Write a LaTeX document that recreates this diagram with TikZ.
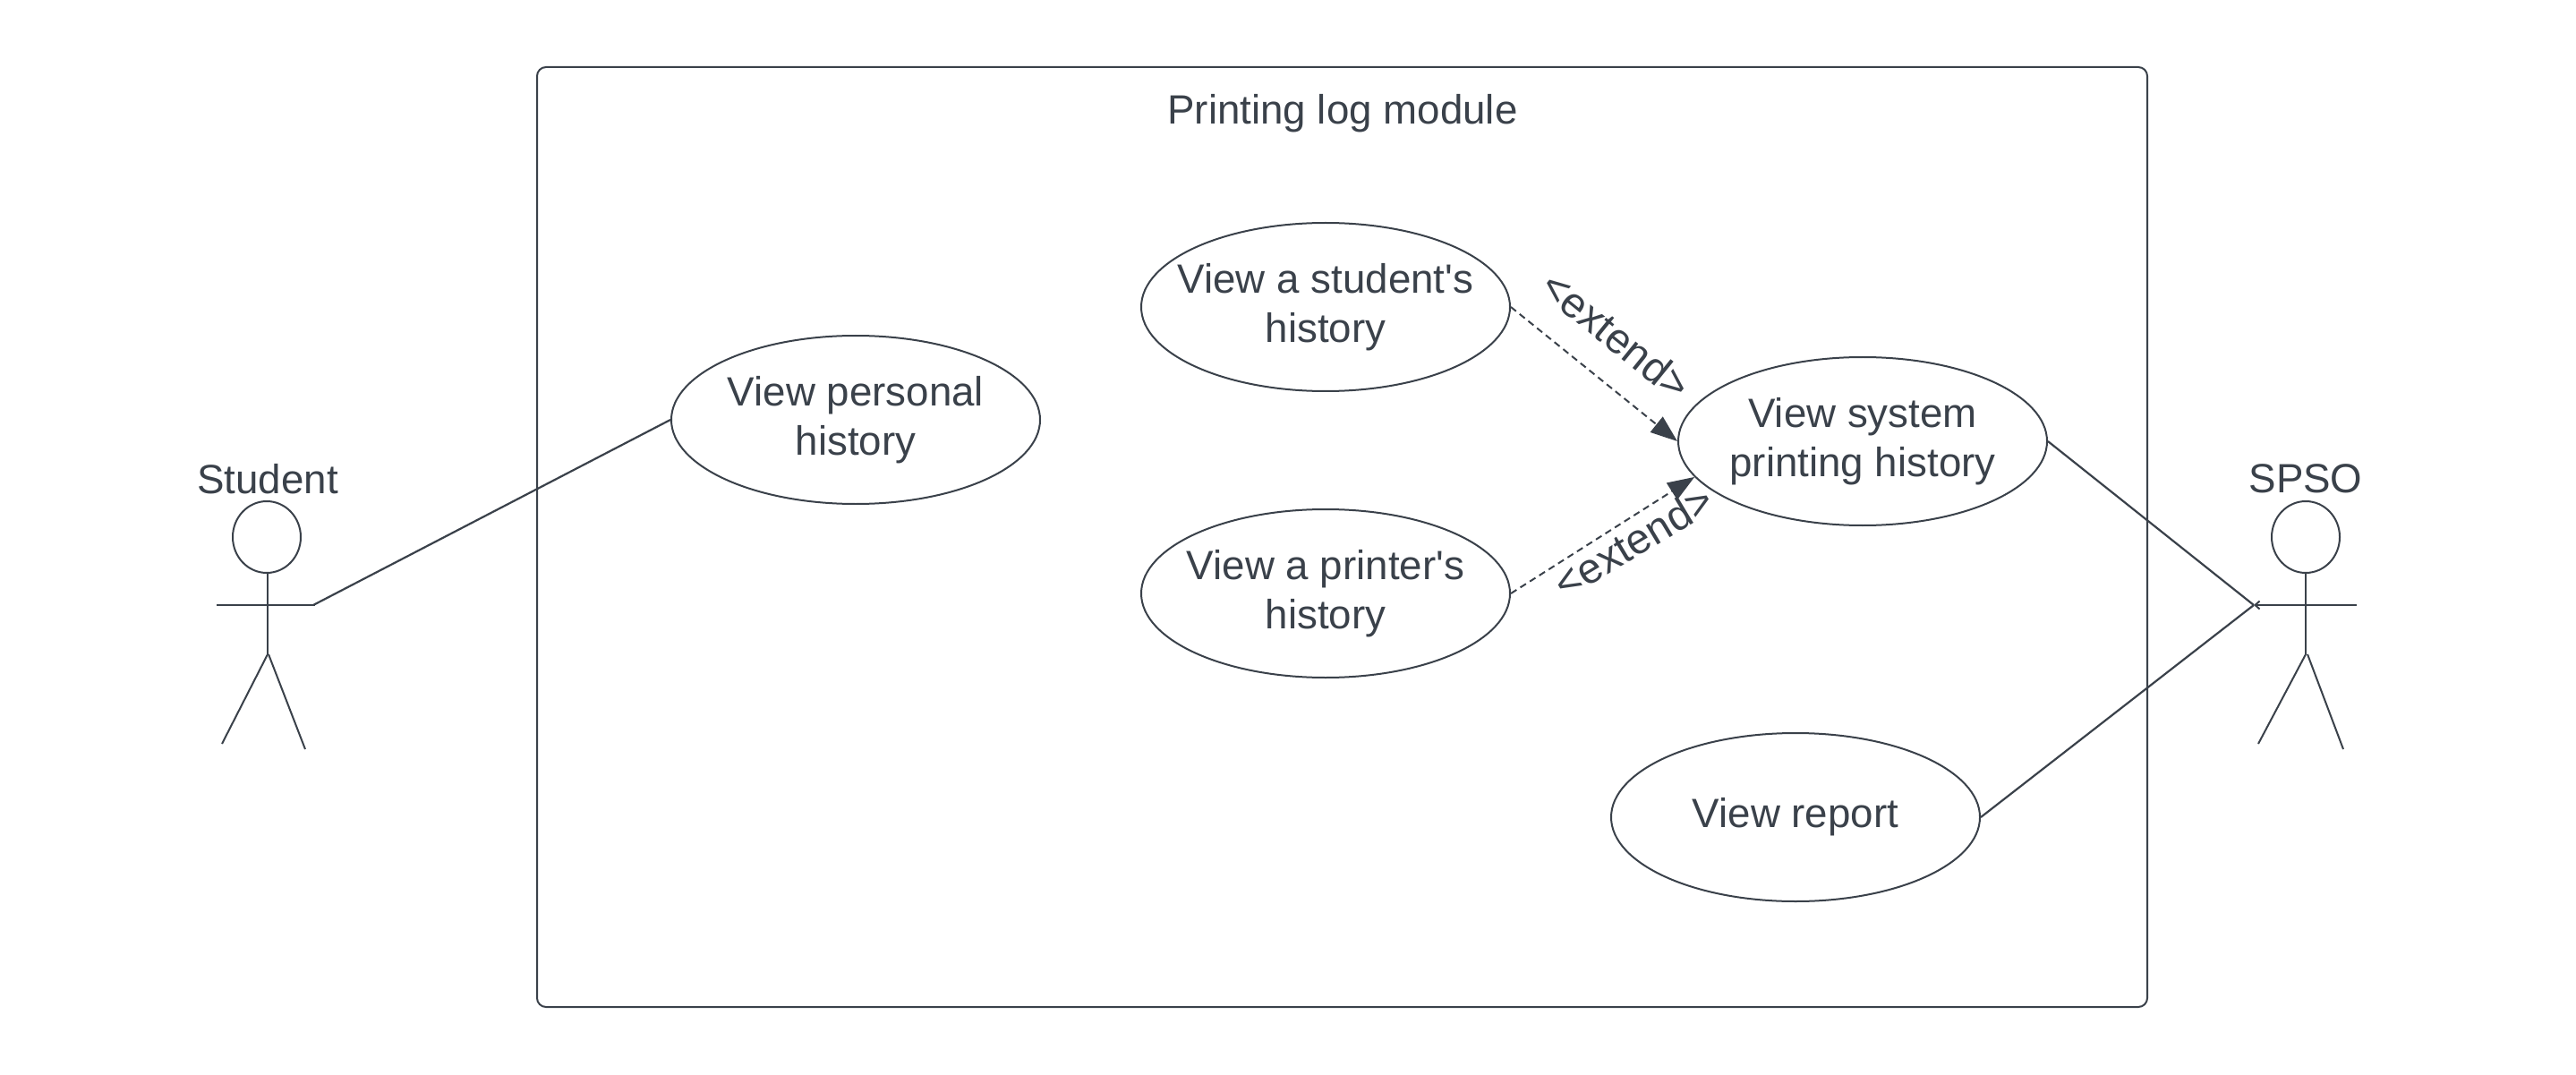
\documentclass[tikz,border=0pt]{standalone}
\usepackage{fontspec}
\setmainfont{Liberation Sans}
\usetikzlibrary{arrows.meta,shapes.geometric}
\definecolor{inkc}{HTML}{3A414A}
\tikzset{
  usecase/.style={draw=inkc, ellipse, line width=0.02cm, minimum width=4.12cm, minimum height=1.88cm, inner xsep=-0.3cm, inner ysep=0pt, align=center, text=inkc},
  label/.style={text=inkc, inner sep=0pt},
  assoc/.style={draw=inkc, line width=0.022cm},
  extendline/.style={draw=inkc, line width=0.02cm, dash pattern=on 0.075cm off 0.05cm, -{Triangle[length=0.3cm,width=0.22cm,fill=inkc]}},
  stick/.style={draw=inkc, line width=0.02cm}
}
\begin{document}
\begin{tikzpicture}[font=\fontsize{13}{15.65}\selectfont]
      \useasboundingbox (0, 0) rectangle (28.78, 12);

      \draw [stick, rounded corners=0.1cm] (6, 0.75) rectangle (23.99, 11.25);
      \node [label] (title) at (15.00, 10.73) {Printing log module};

      \node [usecase] (personal) at (9.56, 7.31) {View personal\\history};
      \node [usecase] (student) at (14.81, 8.57) {View a student\textquotesingle s\\history};
      \node [usecase] (printer) at (14.81, 5.37) {View a printer\textquotesingle s\\history};
      \node [usecase] (system) at (20.81, 7.07) {View system\\printing history};
      \node [usecase] (report) at (20.06, 2.87) {View report};

      % Student figure
      \node [label] (studentname) at (2.99, 6.65) {Student};
      \draw [stick] (2.98, 6.00) ellipse (0.38 and 0.40);
      \draw [stick] (2.99, 5.60) -- (2.99, 4.69);
      \draw [stick] (2.42, 5.24) -- (3.52, 5.24);
      \draw [stick] (2.99, 4.69) -- (2.48, 3.69);
      \draw [stick] (3.00, 4.69) -- (3.41, 3.63);
      \coordinate (studenthand) at (3.50, 5.24);

      % SPSO figure
      \node [label] (spsoname) at (25.76, 6.65) {SPSO};
      \draw [stick] (25.76, 6.00) ellipse (0.38 and 0.40);
      \draw [stick] (25.76, 5.60) -- (25.76, 4.69);
      \draw [stick, -{Straight Barb[length=0.05cm,width=0.09cm]}] (26.33, 5.24) -- (25.18, 5.24);
      \draw [stick] (25.76, 4.69) -- (25.23, 3.69);
      \draw [stick] (25.78, 4.69) -- (26.18, 3.63);
      \coordinate (spsohand) at (25.18, 5.24);

      \draw [assoc] (studenthand) -- (personal.west);
      \draw [assoc] (system.east) -- (spsohand);
      \draw [assoc] (report.east) -- (spsohand);

      \draw [extendline] (student.east) -- (system.west);
      \draw [extendline] (printer.east) -- (system.192);

      \node [label, rotate=-39, font=\fontsize{13.5}{15.65}\selectfont] (extendup) at (18.06, 8.25) {<extend>};
      \node [label, rotate=31, font=\fontsize{13.5}{15.65}\selectfont] (extenddown) at (18.25, 5.95) {<extend>};
   \end{tikzpicture}
\end{document}
